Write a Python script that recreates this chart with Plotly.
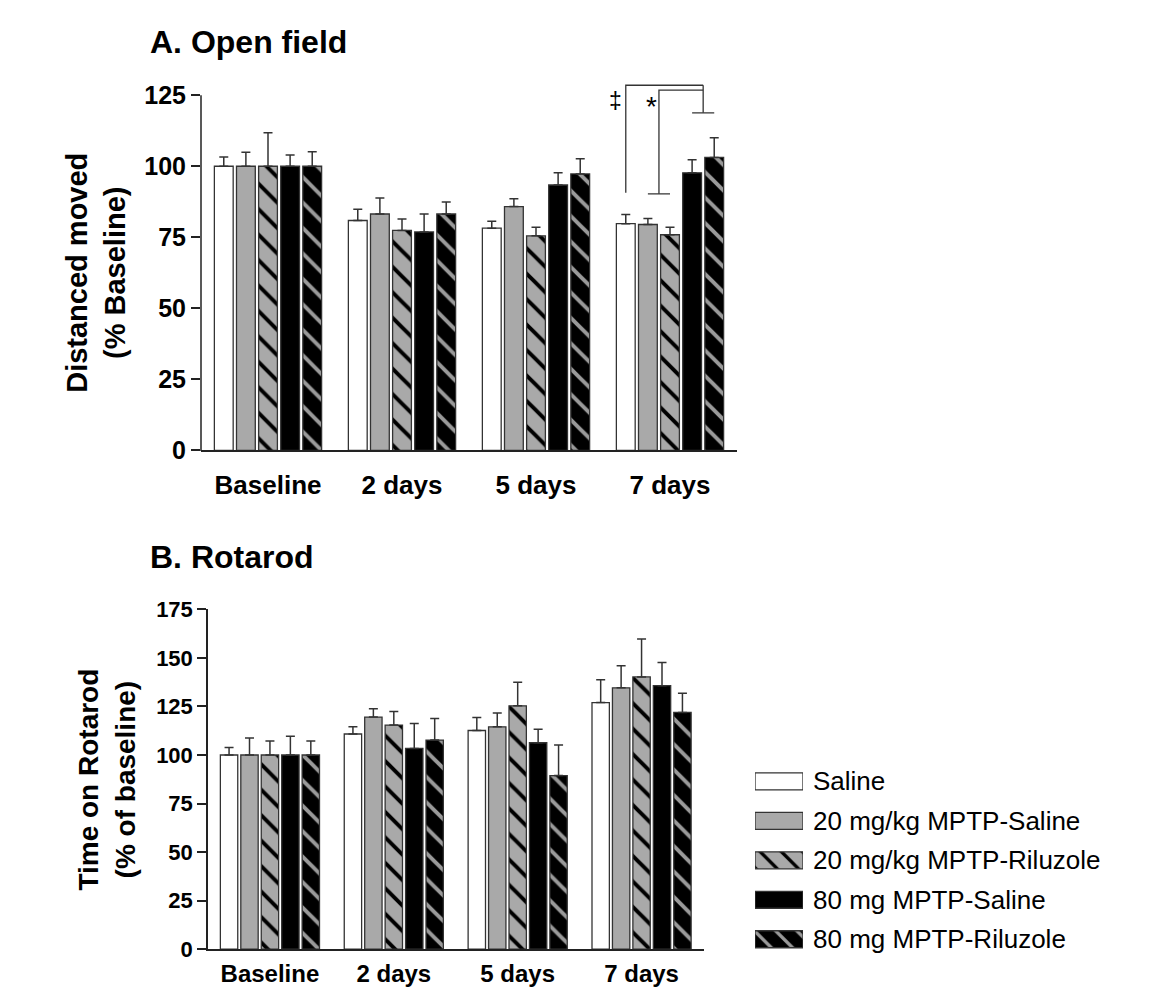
import plotly.graph_objects as go

# ---------------- data ----------------
days = ["Baseline", "2 days", "5 days", "7 days"]
groups = ["Saline", "20 mg/kg MPTP-Saline", "20 mg/kg MPTP-Riluzole",
          "80 mg MPTP-Saline", "80 mg MPTP-Riluzole"]

# A. Open field (% baseline), mean and SEM (upper)
of_saline = [100, 80.9, 78.2, 79.8]
of_20_sal = [100, 83.2, 85.8, 79.5]
of_20_ril = [100, 77.4, 75.5, 75.9]
of_80_sal = [100, 76.9, 93.4, 97.7]
of_80_ril = [100, 83.2, 97.3, 103.1]
of_saline_err = [3.3, 4.0, 2.4, 3.2]
of_20_sal_err = [4.9, 5.6, 2.8, 2.1]
of_20_ril_err = [11.8, 4.0, 3.0, 2.6]
of_80_sal_err = [4.0, 6.3, 4.3, 4.6]
of_80_ril_err = [5.1, 4.2, 5.3, 6.9]

# B. Rotarod (% of baseline)
rr_saline = [100, 110.8, 112.6, 127.0]
rr_20_sal = [100, 119.5, 114.5, 134.6]
rr_20_ril = [100, 115.4, 125.3, 140.2]
rr_80_sal = [100, 103.4, 106.3, 135.7]
rr_80_ril = [100, 107.7, 89.4, 121.9]
rr_saline_err = [3.9, 3.7, 6.7, 11.7]
rr_20_sal_err = [8.7, 4.3, 7.1, 11.4]
rr_20_ril_err = [7.2, 7.0, 12.2, 19.5]
rr_80_sal_err = [9.6, 12.8, 6.9, 11.9]
rr_80_ril_err = [7.2, 11.1, 15.7, 9.9]

of_ticks = [0, 25, 50, 75, 100, 125]
rr_ticks = [0, 25, 50, 75, 100, 125, 150, 175]

# significance at 7 days (open field)
sig_marks = ["‡", "*"]
sig_low = [90.7, 90.3]       # bottom of left legs
sig_high = [128.5, 126.8]    # horizontal levels
sig_right_low = 118.8        # bottom of the right (80 mg) leg
sig_text_y = [123.0, 122.3]

# ---------------- styles ----------------
FONT = "Liberation Sans, Arial, sans-serif"
GRAY = "#a9a9a9"
OUTLINE = "#333333"
styles = [
    dict(color="white", pattern=None),
    dict(color=GRAY, pattern=None),
    dict(color=GRAY, pattern=dict(shape="\\", fgcolor="black", bgcolor=GRAY,
                                  size=18, solidity=0.22, fillmode="replace")),
    dict(color="black", pattern=None),
    dict(color="black", pattern=dict(shape="\\", fgcolor="#9a9a9a", bgcolor="black",
                                     size=18, solidity=0.22, fillmode="replace")),
]

BARGAP = 0.175
BARGROUPGAP = 0.15
W, H = 1153, 989
OX, OY = 8, 8          # page body margin
SY, CY = 0.976, 10.8   # observed vertical mapping of the photographed page


def px(x):
    return (x - OX) / W


def py(y):
    fy = (y - CY) / SY - OY
    return 1 - fy / H


xpos = list(range(len(days)))
fig = go.Figure()


def add_bars(means, errs, xa, ya):
    for k, (m, e) in enumerate(zip(means, errs)):
        st = styles[k]
        marker = dict(color=st["color"], line=dict(color=OUTLINE, width=1.3))
        if st["pattern"]:
            marker["pattern"] = st["pattern"]
        fig.add_trace(go.Bar(
            x=xpos, y=m, name=groups[k], marker=marker, showlegend=False,
            xaxis=xa, yaxis=ya,
            error_y=dict(type="data", symmetric=False, array=e,
                         arrayminus=[0] * len(e), color=OUTLINE,
                         thickness=1.5, width=4.5),
        ))


add_bars([of_saline, of_20_sal, of_20_ril, of_80_sal, of_80_ril],
         [of_saline_err, of_20_sal_err, of_20_ril_err, of_80_sal_err, of_80_ril_err],
         "x", "y")
add_bars([rr_saline, rr_20_sal, rr_20_ril, rr_80_sal, rr_80_ril],
         [rr_saline_err, rr_20_sal_err, rr_20_ril_err, rr_80_sal_err, rr_80_ril_err],
         "x2", "y2")

# bar centre positions within a group
slot = (1 - BARGAP) / len(groups)


def pos(j, k):
    return j + (k - (len(groups) - 1) / 2) * slot


j7 = days.index("7 days")
x_sal = pos(j7, 0)
x_mid12 = (pos(j7, 1) + pos(j7, 2)) / 2
x_mid34 = (pos(j7, 3) + pos(j7, 4)) / 2

line_style = dict(color="#333333", width=1.3)
brackets = [
    ([x_sal, x_sal, x_mid34], [sig_low[0], sig_high[0], sig_high[0]]),
    ([pos(j7, 1), pos(j7, 2)], [sig_low[1], sig_low[1]]),
    ([x_mid12, x_mid12, x_mid34], [sig_low[1], sig_high[1], sig_high[1]]),
    ([x_mid34, x_mid34], [sig_high[0], sig_right_low]),
    ([pos(j7, 3), pos(j7, 4)], [sig_right_low, sig_right_low]),
]
for bx, by in brackets:
    fig.add_trace(go.Scatter(x=bx, y=by, mode="lines", line=line_style,
                             showlegend=False, hoverinfo="skip",
                             xaxis="x", yaxis="y"))

fig.add_annotation(x=x_sal, y=sig_text_y[0], xref="x", yref="y", text=sig_marks[0],
                   showarrow=False, xanchor="right", xshift=-2,
                   font=dict(family=FONT, size=23, color="black"))
fig.add_annotation(x=x_mid12, y=sig_text_y[1], xref="x", yref="y", text=sig_marks[1],
                   showarrow=False, xanchor="right", xshift=0, yshift=-4,
                   font=dict(family=FONT, size=28, color="black"))

# legend built as a small bar panel (one bar per group)
for i, g in enumerate(groups):
    st = styles[i]
    marker = dict(color=st["color"], line=dict(color=OUTLINE, width=1.3))
    if st["pattern"]:
        p = dict(st["pattern"])
        p["size"] = 15
        marker["pattern"] = p
    fig.add_trace(go.Bar(
        x=[1], y=[i], orientation="h", width=0.43, offset=-0.215,
        xaxis="x3", yaxis="y3", showlegend=False, hoverinfo="skip",
        marker=marker,
    ))
    fig.add_annotation(x=px(811), y=i, xref="paper", yref="y3", text=g,
                       showarrow=False, xanchor="left", yanchor="middle",
                       font=dict(family=FONT, size=26, color="black"))

# titles
fig.add_annotation(x=px(148), y=py(41), xref="paper", yref="paper",
                   text="<b>A. Open field</b>", showarrow=False,
                   xanchor="left", yanchor="middle",
                   font=dict(family=FONT, size=32, color="black"))
fig.add_annotation(x=px(148), y=py(557), xref="paper", yref="paper",
                   text="<b>B. Rotarod</b>", showarrow=False,
                   xanchor="left", yanchor="middle",
                   font=dict(family=FONT, size=32, color="black"))
fig.add_annotation(x=px(96), y=py(272), xref="paper", yref="paper",
                   text="<b>Distanced moved<br>(% Baseline)</b>", showarrow=False,
                   textangle=-90, xanchor="center", yanchor="middle",
                   font=dict(family=FONT, size=29, color="black"))
fig.add_annotation(x=px(107), y=py(780), xref="paper", yref="paper",
                   text="<b>Time on Rotarod<br>(% of baseline)</b>", showarrow=False,
                   textangle=-90, xanchor="center", yanchor="middle",
                   font=dict(family=FONT, size=28, color="black"))

# y-axis line of panel A only up to 125 (brackets rise above it)
fig.add_shape(type="line", xref="paper", yref="paper",
              x0=px(201), x1=px(201), y0=py(450.7), y1=py(94),
              line=dict(color="#222222", width=1.5))

axis_common = dict(showline=True, linecolor="#222222", linewidth=1.5,
                   showgrid=False, zeroline=False)

A_SCALE = (450 - 94) / 125.0  # px per unit in panel A
a_top = 450 - 132 * A_SCALE

fig.update_layout(
    width=W, height=H,
    margin=dict(l=0, r=0, t=0, b=0),
    paper_bgcolor="white", plot_bgcolor="white",
    barmode="group", bargap=BARGAP, bargroupgap=BARGROUPGAP,
    font=dict(family=FONT, color="black"),
    xaxis=dict(domain=[px(201), px(737)], range=[-0.5, 3.5],
               tickvals=xpos, ticktext=days, ticks="outside", ticklen=11,
               tickcolor="rgba(0,0,0,0)", anchor="y",
               tickfont=dict(family=FONT, size=26, weight="bold", color="black"),
               **axis_common),
    yaxis=dict(domain=[py(450), py(a_top)], range=[0, 132],
               tickvals=of_ticks, ticks="outside", ticklen=9, tickwidth=1.5,
               tickcolor="#222222", anchor="x", showline=False,
               showgrid=False, zeroline=False,
               tickfont=dict(family=FONT, size=25, weight="bold", color="black")),
    xaxis2=dict(domain=[px(208), px(703.5)], range=[-0.5, 3.5],
                tickvals=xpos, ticktext=days, ticks="outside", ticklen=2,
                tickcolor="rgba(0,0,0,0)", anchor="y2",
                tickfont=dict(family=FONT, size=24, weight="bold", color="black"),
                **axis_common),
    yaxis2=dict(domain=[py(950), py(609.3)], range=[0, 175],
                tickvals=rr_ticks, ticks="outside", ticklen=9, tickwidth=1.5,
                tickcolor="#222222", anchor="x2",
                tickfont=dict(family=FONT, size=22, weight="bold", color="black"),
                **axis_common),
    xaxis3=dict(domain=[px(755), px(803)], range=[0, 1], visible=False, anchor="y3"),
    yaxis3=dict(domain=[py(959.8), py(762)], range=[4.5, -0.5],
                visible=False, anchor="x3"),
)

fig.write_html("out.html")
